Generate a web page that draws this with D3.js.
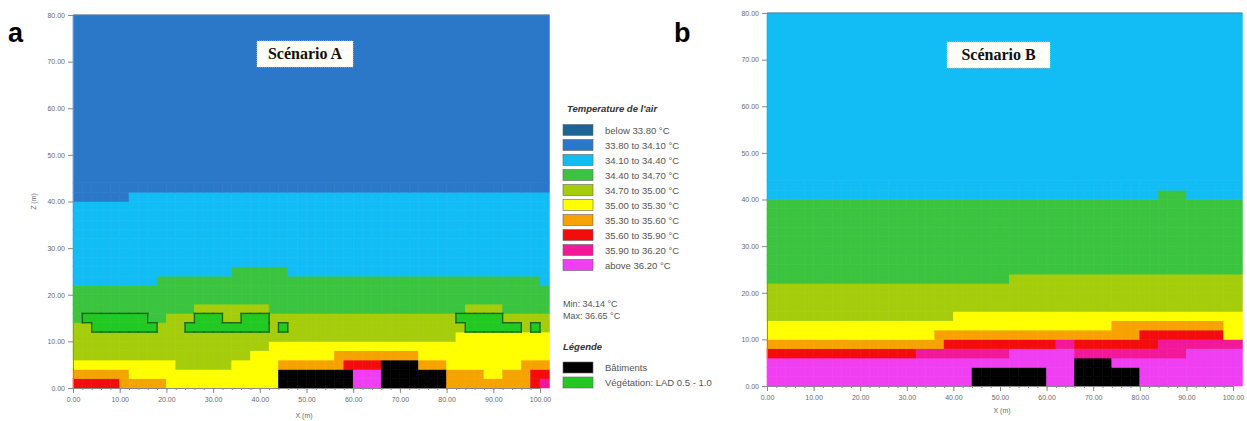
<!DOCTYPE html>
<html><head><meta charset="utf-8">
<script src="https://cdn.jsdelivr.net/npm/d3@7"></script>
<style>
body{margin:0;background:#fff}
svg{display:block;font-family:"Liberation Sans",Arial,sans-serif}
</style>
</head><body>
<svg id="chart" width="1247" height="421"></svg>
<script>
// ---------- DATA ----------
const classCodes  = ["0","1","2","3","4","5","6","7","8","9"];
const classLabels = ["below 33.80 °C","33.80 to 34.10 °C","34.10 to 34.40 °C","34.40 to 34.70 °C",
  "34.70 to 35.00 °C","35.00 to 35.30 °C","35.30 to 35.60 °C","35.60 to 35.90 °C",
  "35.90 to 36.20 °C","above 36.20 °C"];
const xTicks = [0,10,20,30,40,50,60,70,80,90,100];
const xMinorTicks = d3.range(0,102,2);
const zTicks = [0,10,20,30,40,50,60,70,80];
const cellSize = 2;       // grid cell size (m)
const nCols = 51;         // cells along X
const zTop = 80;
const statsA = ["Min: 34.14 °C","Max: 36.65 °C"];
const extraLegend = ["Bâtiments","Végétation:  LAD 0.5 - 1.0"];
// rows from z = 0 upward, run-length coded "class:count" (B = building, V = vegetation)
const gridA = [
  "7:5 6:5 5:12 B:8 9:3 B:7 6:9 7:1 8:1",
  "6:6 5:16 B:8 9:3 B:7 6:4 5:2 6:3 7:2",
  "5:11 4:6 5:5 6:7 7:4 B:4 6:3 5:8 6:3",
  "4:19 5:9 6:9 5:14",
  "4:21 5:30",
  "4:41 5:10",
  "4:2 V:7 4:3 V:9 4:1 V:1 4:19 V:6 4:1 V:1 4:1",
  "3:1 V:7 3:2 4:3 V:3 4:2 V:3 4:20 V:5 4:5",
  "3:13 4:8 3:21 4:4 3:5",
  "3:51","3:51",
  "2:9 3:41 2:1",
  "2:17 3:6 2:28",
  "2:51","2:51","2:51","2:51","2:51","2:51","2:51",
  "1:6 2:45",
  "1:51"
];
const topA = "1";
const gridB = [
  "9:22 B:8 9:3 B:7 9:11",
  "9:22 B:8 9:3 B:7 9:11",
  "9:33 B:4 9:14",
  "7:16 8:10 9:7 8:12 9:6",
  "6:19 7:12 8:2 7:9 8:9",
  "5:18 6:22 7:9 5:2",
  "5:37 6:12 5:2",
  "4:20 5:31",
  "4:51","4:51","4:51",
  "3:26 4:25",
  "3:51","3:51","3:51","3:51","3:51","3:51","3:51","3:51",
  "2:42 3:3 2:6",
  "2:51"
];
const topB = "2";

// ---------- STYLE ----------
const classColors = ["#1d6496","#2b78c8","#12bdf5","#3bc43f","#a6cd0b","#ffff00","#f6a300","#f30c0c","#f2189a","#f03ef2"];
const buildingColor = "#000000", vegColor = "#22c922", vegEdge = "#1b6a1b";
const colorOf = k => k === "B" ? buildingColor : k === "V" ? vegColor : classColors[classCodes.indexOf(k)];

const svg = d3.select("#chart");

function parseGrid(rows){
  return rows.map(r => {
    const out = [];
    r.split(" ").forEach(t => { const [k,n] = t.split(":"); for(let i=0;i<+n;i++) out.push(k); });
    if (out.length !== nCols) console.warn("row length", out.length, r);
    return out;
  });
}

const panels = [
  {letter:"a", letterPos:[8,42], title:"Scénario A", box:[257,41,96,26], grid:gridA, top:topA,
   xr:[73,540], yr:[388,15], showZ:true, xLabelPos:[304,418]},
  {letter:"b", letterPos:[674,42], title:"Scénario B", box:[947,42,103,26], grid:gridB, top:topB,
   xr:[767,1233], yr:[386,13], showZ:false, xLabelPos:[1002,413]}
];

panels.forEach(p => {
  const x = d3.scaleLinear().domain([0,100]).range(p.xr);
  const y = d3.scaleLinear().domain([0,80]).range(p.yr);
  const g = svg.append("g");
  const cells = parseGrid(p.grid);
  const nRows = cells.length;
  const xMax = nCols*cellSize;

  // upper uniform zone
  g.append("rect").attr("x", x(0)).attr("y", y(zTop))
    .attr("width", x(xMax)-x(0)).attr("height", y(nRows*cellSize)-y(zTop))
    .attr("fill", colorOf(p.top)).attr("stroke", colorOf(p.top)).attr("stroke-width",0.6);

  const flat = [];
  cells.forEach((row,r) => row.forEach((k,c) => flat.push({r,c,k})));
  g.selectAll("rect.cell").data(flat).join("rect").attr("class","cell")
    .attr("x", d => x(d.c*cellSize)).attr("y", d => y((d.r+1)*cellSize))
    .attr("width", d => x((d.c+1)*cellSize)-x(d.c*cellSize))
    .attr("height", d => y(d.r*cellSize)-y((d.r+1)*cellSize))
    .attr("fill", d => colorOf(d.k)).attr("stroke", d => colorOf(d.k)).attr("stroke-width",0.6);

  // vegetation outlines
  const isV = (r,c) => r>=0 && r<nRows && c>=0 && c<nCols && cells[r][c]==="V";
  const edges = [];
  flat.filter(d => d.k==="V").forEach(({r,c}) => {
    const x0=c*cellSize, x1=(c+1)*cellSize, z0=r*cellSize, z1=(r+1)*cellSize;
    if(!isV(r+1,c)) edges.push([x0,z1,x1,z1]);
    if(!isV(r-1,c)) edges.push([x0,z0,x1,z0]);
    if(!isV(r,c-1)) edges.push([x0,z0,x0,z1]);
    if(!isV(r,c+1)) edges.push([x1,z0,x1,z1]);
  });
  g.selectAll("line.veg").data(edges).join("line").attr("class","veg")
    .attr("x1", d=>x(d[0])).attr("y1", d=>y(d[1])).attr("x2", d=>x(d[2])).attr("y2", d=>y(d[3]))
    .attr("stroke", vegEdge).attr("stroke-width",1.4).attr("stroke-linecap","square");

  // frame top line
  g.append("line").attr("x1",x(0)).attr("x2",x(xMax)).attr("y1",y(zTop)).attr("y2",y(zTop))
    .attr("stroke","#5b7f9e").attr("stroke-width",1);

  // axes
  const yAxis = g.append("g").attr("transform",`translate(${x(0)},0)`)
    .call(d3.axisLeft(y).tickValues(zTicks).tickSize(5).tickFormat(d3.format(".2f")));
  const xAxis = g.append("g").attr("transform",`translate(0,${y(0)})`)
    .call(d3.axisBottom(x).tickValues(xTicks).tickSize(5).tickFormat(d3.format(".2f")));
  const xMinor = g.append("g").attr("transform",`translate(0,${y(0)})`)
    .call(d3.axisBottom(x).tickValues(xMinorTicks).tickSize(2).tickFormat(""));
  xMinor.select(".domain").remove();
  [yAxis,xAxis,xMinor].forEach(a => {
    a.selectAll("path.domain").attr("stroke","#8a8a8a");
    a.selectAll(".tick line").attr("stroke","#8a8a8a");
    a.selectAll("text").attr("fill","#6a6a6a").style("font-size","7px")
      .style("font-family","'Liberation Sans',Arial,sans-serif");
  });
  xAxis.selectAll("text").attr("dy","0.9em");

  g.append("text").attr("x",p.xLabelPos[0]).attr("y",p.xLabelPos[1]).attr("text-anchor","middle")
    .attr("fill","#6a6a6a").style("font-size","7px").text("X (m)");
  if(p.showZ){
    g.append("text").attr("transform",`translate(36,${y(40)}) rotate(-90)`).attr("text-anchor","middle")
      .attr("fill","#6a6a6a").style("font-size","7px").text("Z (m)");
  }

  // scenario box
  g.append("rect").attr("x",p.box[0]).attr("y",p.box[1]).attr("width",p.box[2]).attr("height",p.box[3])
    .attr("fill","#fffef6").attr("stroke","#d8d8d8").attr("stroke-width",0.8).attr("stroke-dasharray","1,1");
  g.append("text").attr("x",p.box[0]+p.box[2]/2).attr("y",p.box[1]+p.box[3]/2+5)
    .attr("text-anchor","middle").attr("fill","#111")
    .style("font-family","'Liberation Serif','Times New Roman',serif").style("font-weight","bold")
    .style("font-size","16px").text(p.title);

  // panel letter
  svg.append("text").attr("x",p.letterPos[0]).attr("y",p.letterPos[1])
    .style("font-family","'Liberation Sans',Arial,sans-serif").style("font-weight","bold")
    .style("font-size","27px").attr("fill","#000").text(p.letter);
});

// ---------- LEGEND ----------
const lg = svg.append("g");
const lx = 563, ly0 = 124.5, lstep = 15;
lg.append("text").attr("x",567).attr("y",112).style("font-size","9.5px").style("font-style","italic")
  .style("font-weight","bold").attr("fill","#333").text("Temperature de l'air");
lg.selectAll("rect.sw").data(classLabels).join("rect").attr("class","sw")
  .attr("x",lx).attr("y",(d,i)=>ly0+i*lstep).attr("width",30).attr("height",11)
  .attr("fill",(d,i)=>classColors[i]).attr("stroke","#666").attr("stroke-width",0.6);
lg.selectAll("text.lb").data(classLabels).join("text").attr("class","lb")
  .attr("x",605).attr("y",(d,i)=>ly0+i*lstep+9).style("font-size","9.5px").attr("fill","#555").text(d=>d);
lg.selectAll("text.st").data(statsA).join("text").attr("class","st")
  .attr("x",563).attr("y",(d,i)=>307+i*11.5).style("font-size","9px").attr("fill","#555").text(d=>d);
lg.append("text").attr("x",563).attr("y",350).style("font-size","9.5px").style("font-style","italic")
  .style("font-weight","bold").attr("fill","#333").text("Légende");
lg.selectAll("rect.ex").data(extraLegend).join("rect").attr("class","ex")
  .attr("x",lx).attr("y",(d,i)=>362+i*15).attr("width",30).attr("height",11)
  .attr("fill",(d,i)=> i===0 ? buildingColor : vegColor).attr("stroke","#666").attr("stroke-width",0.6);
lg.selectAll("text.ext").data(extraLegend).join("text").attr("class","ext")
  .attr("x",605).attr("y",(d,i)=>371+i*15).style("font-size","9.5px").attr("fill","#555").text(d=>d);
</script>
</body></html>
